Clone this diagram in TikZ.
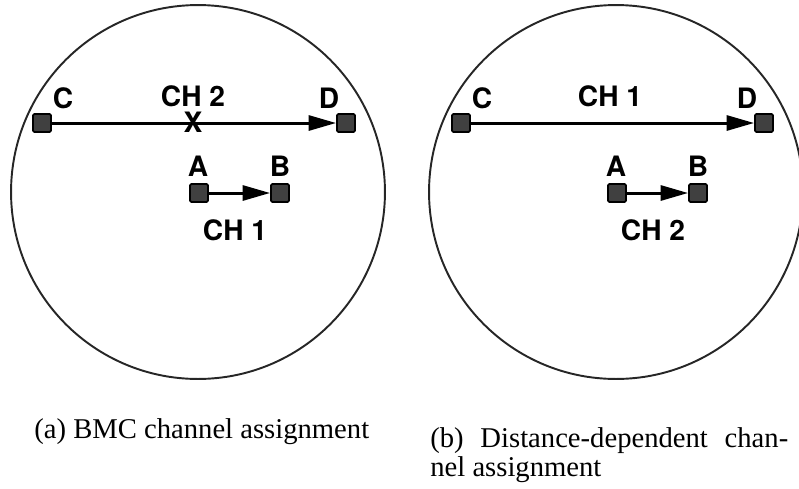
\documentclass[tikz,border=0pt]{standalone}
\usepackage{fontspec}
\setmainfont{Liberation Serif}
\newfontfamily\labelfont{TeX Gyre Heros}
\usepackage{tikz}
\usetikzlibrary{arrows.meta}

\begin{document}
\begin{tikzpicture}[
  x=0.02cm, y=-0.02cm,
  >={Triangle[length=0.55cm, width=0.3cm]},
  station/.style={draw=black, fill=black!75, line width=1pt, rounded corners=0.8pt, minimum size=0.36cm, inner sep=0pt},
  lbl/.style={font=\labelfont\bfseries\fontsize{16}{19}\selectfont, inner sep=0pt},
  subcap/.style={font=\fontsize{16.3}{19}\selectfont, inner sep=0pt, anchor=base west},
  link/.style={->, line width=1.7pt},
  cell/.style={line width=1.1pt, draw=black!85},
]
\useasboundingbox (0,0) rectangle (799,488);
% cells
\draw[cell] (198,192) circle[radius=3.74cm];
\draw[cell] (616,192) circle[radius=3.74cm];
% (a) BMC: long link on CH 2, blocked
\node[station] (Ca) at (42,123) {};
\node[station] (Da) at (346,123) {};
\node[station] (Aa) at (199,193) {};
\node[station] (Ba) at (280,193) {};
\node[lbl] (labCa) at (63,98) {C};
\node[lbl] (labDa) at (329,98) {D};
\node[lbl] (labAa) at (198,166) {A};
\node[lbl] (labBa) at (280,166) {B};
\node[lbl] (chCDa) at (193,96) {CH 2};
\node[lbl] (chABa) at (235,230) {CH 1};
% (b) distance-dependent
\node[station] (Cb) at (461,123) {};
\node[station] (Db) at (764,123) {};
\node[station] (Ab) at (617,193) {};
\node[station] (Bb) at (698,193) {};
\node[lbl] (labCb) at (482,98) {C};
\node[lbl] (labDb) at (747,98) {D};
\node[lbl] (labAb) at (616,166) {A};
\node[lbl] (labBb) at (698,166) {B};
\node[lbl] (chCDb) at (610,96) {CH 1};
\node[lbl] (chABb) at (653,230) {CH 2};
% links
\draw[link] (Ca) -- (Da);
\draw[link] (Aa) -- (Ba);
\draw[link] (Cb) -- (Db);
\draw[link] (Ab) -- (Bb);
\node[lbl] (block) at (193,122) {X};
% captions
\node[subcap] (capa) at (34,438) {(a) BMC channel assignment};
\node[subcap] (capb) at (430,447) {\makebox[7.16cm][s]{(b) Distance-dependent chan-}};
\node[subcap] (capb2) at (430,476) {nel assignment};
\end{tikzpicture}
\end{document}
